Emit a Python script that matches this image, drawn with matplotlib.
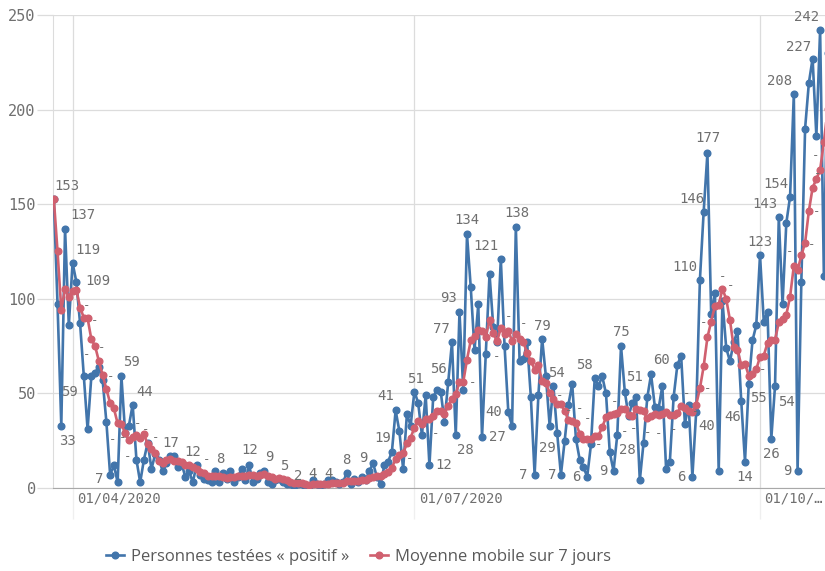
import matplotlib as mpl
mpl.use("Agg")
import matplotlib.pyplot as plt
import matplotlib.transforms as mtrans
import pandas as pd

# données quotidiennes à partir du 27/03/2020
start = "2020-03-27"
positifs = [
    153, 97, 33, 137, 86, 119, 109, 87, 59, 31,
    59, 61, 64, 57, 35, 7, 12, 3, 59, 29,
    33, 44, 15, 3, 15, 24, 10, 18, 15, 9,
    13, 17, 17, 11, 13, 6, 9, 3, 12, 7,
    5, 4, 3, 9, 3, 8, 5, 9, 3, 6,
    10, 4, 12, 3, 5, 8, 9, 3, 2, 4,
    5, 3, 2, 2, 1, 2, 2, 1, 1, 4,
    2, 1, 2, 4, 4, 3, 2, 3, 8, 2,
    5, 3, 6, 4, 9, 13, 6, 2, 12, 14,
    19, 41, 30, 10, 39, 33, 51, 45, 28, 49,
    12, 48, 52, 51, 35, 56, 77, 28, 93, 52,
    134, 106, 73, 97, 27, 71, 113, 85, 77, 121,
    75, 40, 33, 138, 67, 68, 77, 48, 7, 49,
    79, 59, 33, 54, 29, 7, 25, 44, 55, 26,
    15, 11, 6, 23, 58, 54, 59, 50, 19, 9,
    28, 75, 51, 38, 45, 48, 4, 24, 48, 60,
    43, 42, 54, 10, 14, 48, 65, 70, 34, 44,
    6, 40, 110, 146, 177, 92, 103, 9, 99, 74,
    67, 77, 83, 46, 14, 55, 78, 86, 123, 88,
    93, 26, 54, 143, 97, 140, 154, 208, 9, 109,
    190, 214, 227, 186, 242, 112, 230,
]
moyenne_7j = [
    153.0, 125.0, 94.3, 105.0, 101.2, 104.2, 104.9, 95.4, 90.0, 89.7,
    78.6, 75.0, 67.1, 59.7, 52.3, 44.9, 42.1, 34.1, 33.9, 28.9,
    25.4, 26.7, 27.9, 26.6, 28.3, 23.3, 20.6, 18.4, 14.3, 13.4,
    14.9, 15.1, 14.1, 14.3, 13.6, 12.3, 12.3, 10.9, 10.1, 8.7,
    7.9, 6.6, 6.1, 6.1, 6.1, 5.6, 5.3, 5.9, 5.7, 6.1,
    6.3, 6.4, 7.0, 6.7, 6.1, 6.9, 7.3, 6.3, 6.0, 4.9,
    5.1, 4.9, 4.0, 3.0, 2.7, 2.7, 2.4, 1.9, 1.6, 1.9,
    1.9, 1.9, 1.9, 2.1, 2.6, 2.9, 2.6, 2.7, 3.7, 3.7,
    3.9, 3.7, 4.1, 4.4, 5.3, 6.0, 6.6, 6.1, 7.4, 8.6,
    10.7, 15.3, 17.7, 18.3, 23.6, 26.6, 31.9, 35.6, 33.7, 36.4,
    36.7, 38.0, 40.7, 40.7, 39.3, 43.3, 47.3, 49.6, 56.0, 56.0,
    67.9, 78.0, 80.4, 83.3, 83.1, 80.0, 88.7, 81.7, 77.6, 84.4,
    81.3, 83.1, 77.7, 81.3, 78.7, 77.4, 71.1, 67.3, 62.6, 64.9,
    56.4, 55.3, 50.3, 47.0, 44.3, 44.3, 40.9, 35.9, 35.3, 34.3,
    28.7, 26.1, 26.0, 25.7, 27.7, 27.6, 32.3, 37.3, 38.4, 38.9,
    39.6, 42.0, 41.6, 38.6, 37.9, 42.0, 41.3, 40.7, 36.9, 38.1,
    38.9, 38.4, 39.3, 40.1, 38.7, 38.7, 39.4, 43.3, 42.1, 40.7,
    40.1, 43.9, 52.7, 64.3, 79.6, 87.9, 96.3, 96.7, 105.1, 100.0,
    88.7, 74.4, 73.1, 65.0, 65.7, 59.4, 60.0, 62.7, 69.3, 70.0,
    76.7, 78.4, 78.3, 87.6, 89.1, 91.6, 101.0, 117.4, 115.0, 122.9,
    129.6, 146.3, 158.7, 163.3, 168.1, 182.9, 200.1,
]
tick_dates = ["2020-04-01", "2020-07-01", "2020-10-01"]
tick_labels = ["01/04/2020", "01/07/2020", "01/10/…"]
y_ticks = [0, 50, 100, 150, 200, 250]
serie_noms = ["Personnes testées « positif »", "Moyenne mobile sur 7 jours"]

# étiquettes de valeurs : (indice, dx, dy) en pixels
val_labels = [
    (0, 13, 13), (2, 6, -15), (3, 18, 14), (5, 15, 13), (6, 22, 1),
    (8, -14, -16), (15, -11, -4), (18, 10, 14), (21, 12, 13), (31, 0, 13),
    (38, -4, 13), (45, -3, 14), (52, 1, 15), (56, 5, 14), (60, 5, 13),
    (65, 0, 8), (69, 0, 6), (73, 0, 6), (78, 0, 13), (84, -6, 13),
    (90, -9, 14), (91, -10, 14), (96, 1, 13), (100, 14, 0), (105, -10, 13),
    (106, -11, 13), (107, 10, -15), (108, -11, 14), (110, 0, 14), (114, 15, 0),
    (119, -15, 13), (121, -15, 0), (123, 1, 14), (128, -11, 0), (130, 0, 13),
    (133, 3, 13), (134, -10, -15), (135, -9, 0), (142, -11, 0), (144, -10, 13),
    (149, -10, 0), (150, 10, -15), (151, 0, 14), (152, 10, 15), (159, 10, 14),
    (170, -11, 0), (171, 11, -14), (172, -15, 13), (173, -12, 13), (174, 0, 15),
    (183, -9, -16), (184, 0, -15), (185, 10, -14), (188, 0, 13), (191, 0, -15),
    (192, 11, -16), (193, -14, 13), (196, -14, 13), (197, -14, 13), (198, -10, 0),
    (202, -14, 12), (204, -14, 13),
]
# tirets affichés sur la moyenne mobile
dash_labels = [
    (9, -1, 13), (11, 0, 26), (9, -1, -36), (13, -1, 28), (15, 0, 27),
    (16, -1, -31), (18, 1, -14), (20, -1, -17), (22, 1, 12), (25, -2, 14),
    (27, 0, 16), (41, -1, 16), (95, -1, -21), (102, -1, -23), (109, 9, 0),
    (118, 0, -15), (121, 0, 14), (125, 0, 18), (135, -1, 9), (137, 0, 10),
    (139, 4, 15), (142, 0, 20), (145, 0, -9), (149, 1, 13), (152, 0, -22),
    (154, 1, -12), (159, -3, -17), (160, 4, -19), (165, 0, -15), (168, 2, 15),
    (171, -1, -7), (172, 8, 0), (174, -4, 15), (178, 0, 13), (179, 4, 13),
    (188, 3, -13), (197, -4, 14), (200, 7, -2), (201, 8, 0), (202, 5, 14),
    (204, -4, 14),
]

blue = "#4275ab"
red = "#d0606f"
grid_c = "#dcdcdc"
txt_c = "#6f6f6f"
mono = "DejaVu Sans Mono"

dates = pd.date_range(start, periods=len(positifs), freq="D")

fig = plt.figure(figsize=(8.25, 5.71), dpi=100)
ax = fig.add_axes([53 / 825, 83 / 571, 772 / 825, 473 / 571])

l1, = ax.plot(dates, positifs, color=blue, lw=1.9, marker="o", ms=4.8,
              zorder=3, label=serie_noms[0])
l2, = ax.plot(dates, moyenne_7j, color=red, lw=1.9, marker="o", ms=4.8,
              zorder=4, label=serie_noms[1])

for i, dx, dy in val_labels:
    ax.annotate(str(positifs[i]), xy=(dates[i], positifs[i]), xytext=(dx, dy),
                textcoords="offset pixels", ha="center", va="center",
                fontsize=10, family=mono, color=txt_c, zorder=5)
for i, dx, dy in dash_labels:
    ax.annotate("-", xy=(dates[i], moyenne_7j[i]), xytext=(dx, dy),
                textcoords="offset pixels", ha="center", va="center",
                fontsize=9, family=mono, color=txt_c, zorder=5)

ax.set_ylim(0, 250)
ax.set_xlim(dates[0] - pd.Timedelta(hours=5), dates[0] + pd.Timedelta(days=205.3))

ax.set_yticks(y_ticks)
ax.set_yticklabels([str(v) for v in y_ticks], family=mono, fontsize=11, color=txt_c)

# étiquettes de l'axe x, alignées à gauche juste après la ligne de grille
xt = pd.to_datetime(tick_dates)
ax.set_xticks(xt)
ax.set_xticklabels([])
trans = mtrans.blended_transform_factory(ax.transData, ax.transAxes) + \
    mtrans.ScaledTranslation(4.5 / 100, -4 / 100, fig.dpi_scale_trans)
for d, lab in zip(xt, tick_labels):
    ax.text(d, 0, lab, transform=trans, ha="left", va="top",
            family=mono, fontsize=10, color=txt_c)

ax.grid(True, color=grid_c, lw=0.9, zorder=0)
ax.tick_params(axis="y", length=11.5, color=grid_c, width=0.9, pad=1)
ax.tick_params(axis="x", length=22, color="#efefef", width=0.9)
for s in ["top", "right"]:
    ax.spines[s].set_visible(False)
ax.spines["left"].set_color(grid_c)
ax.spines["bottom"].set_color("#a8a8a8")

leg = fig.legend(handles=[l1, l2], loc="center left", bbox_to_anchor=(106 / 825, 1 - 557 / 571),
                 ncol=2, frameon=False, handlelength=1.05, columnspacing=1.25,
                 handletextpad=0.45, borderpad=0, borderaxespad=0,
                 prop={"family": "Open Sans", "size": 12})
for t in leg.get_texts():
    t.set_color("#595959")

fig.savefig("out.png", dpi=100)
